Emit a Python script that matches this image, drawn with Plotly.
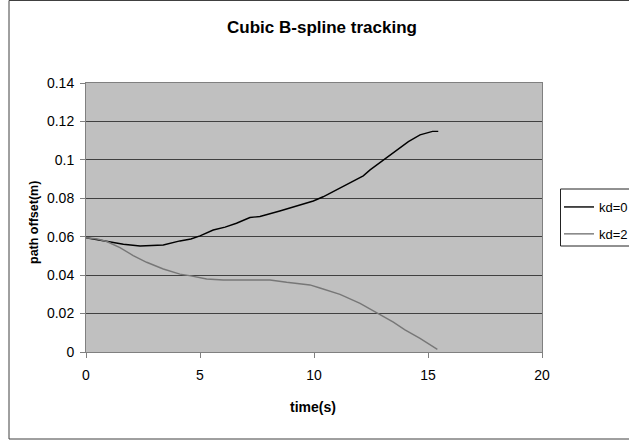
import plotly.graph_objects as go

# ---- data ----
kd0_t = [0, 0.5, 1.05, 1.64, 2.37, 2.9, 3.39, 4.12, 4.6, 5.0, 5.58, 6.1, 6.6, 7.19, 7.63,
         8.5, 9.39, 9.97, 10.4, 10.85, 11.58, 12.16, 12.46, 13.04, 13.63, 14.14, 14.65,
         15.0, 15.2, 15.45]
kd0_v = [0.0595, 0.0585, 0.0571, 0.0561, 0.0552, 0.0553, 0.0557, 0.0578, 0.0588, 0.0604,
         0.0635, 0.065, 0.067, 0.070, 0.0705, 0.0734, 0.0764, 0.0786, 0.0808, 0.0835,
         0.0878, 0.0917, 0.0948, 0.100, 0.105, 0.1095, 0.113, 0.1144, 0.1148, 0.1148]

kd2_t = [0, 0.5, 0.91, 1.49, 2.07, 2.66, 3.39, 4.12, 4.6, 5.0, 5.29, 6.02, 7.0, 8.07,
         8.8, 9.39, 9.82, 10.26, 11.14, 12.02, 12.75, 13.48, 13.99, 14.65, 15.41]
kd2_v = [0.0595, 0.0588, 0.0575, 0.0543, 0.0502, 0.0467, 0.0432, 0.0405, 0.0396, 0.0389,
         0.038, 0.0375, 0.0375, 0.0375, 0.0363, 0.0355, 0.0349, 0.0333, 0.030, 0.0253,
         0.0205, 0.0155, 0.0115, 0.0071, 0.0014]

series_names = ["kd=0", "kd=2"]
title_text = "Cubic B-spline tracking"
x_title = "time(s)"
y_title = "path offset(m)"
x_ticks = [0, 5, 10, 15, 20]
y_ticks = [0, 0.02, 0.04, 0.06, 0.08, 0.1, 0.12, 0.14]

FONT = "Liberation Sans, Arial, sans-serif"

fig = go.Figure()
fig.add_trace(go.Scatter(x=kd0_t, y=kd0_v, mode="lines", name=series_names[0],
                         legendgroup="a",
                         line=dict(color="#000000", width=1.4)))
fig.add_trace(go.Scatter(x=kd2_t, y=kd2_v, mode="lines", name=series_names[1],
                         legendgroup="b",
                         line=dict(color="#777777", width=1.4)))

W, H = 629, 442
L, R, T, B = 86, 87, 83, 90
pw, ph = W - L - R, H - T - B

def px_x(x):
    return (x - L) / pw

def px_y(y):
    return (H - B - y) / ph

fig.update_layout(
    width=W, height=H,
    margin=dict(l=L, r=R, t=T, b=B, autoexpand=False),
    paper_bgcolor="white",
    plot_bgcolor="#C0C0C0",
    font=dict(family=FONT, size=14, color="black"),
    title=dict(text=title_text, x=322 / W, xref="container", xanchor="center",
               y=1 - 27 / H, yref="container", yanchor="middle",
               font=dict(family=FONT, size=17, weight="bold", color="black")),
    showlegend=True,
    legend=dict(x=px_x(559), y=px_y(192), xanchor="left", yanchor="top",
                xref="paper", yref="paper",
                bgcolor="rgba(0,0,0,0)", borderwidth=0,
                font=dict(family=FONT, size=13, color="black"),
                tracegroupgap=7, itemwidth=30),
    shapes=[
        # outer chart border
        dict(type="rect", xref="paper", yref="paper",
             x0=px_x(9), x1=px_x(700), y0=px_y(439), y1=px_y(0.5),
             line=dict(color="#404040", width=1), fillcolor="rgba(0,0,0,0)",
             layer="below"),
        # legend box
        dict(type="rect", xref="paper", yref="paper",
             x0=px_x(560.5), x1=px_x(700), y0=px_y(246), y1=px_y(189),
             line=dict(color="#222222", width=1), fillcolor="white",
             layer="above"),
    ],
    annotations=[
        dict(text=x_title, xref="paper", yref="paper", x=px_x(313), y=px_y(407),
             xanchor="center", yanchor="middle", showarrow=False,
             font=dict(family=FONT, size=14, weight="bold", color="black")),
        dict(text=y_title, xref="paper", yref="paper", x=px_x(34), y=px_y(223),
             xanchor="center", yanchor="middle", showarrow=False, textangle=-90,
             font=dict(family=FONT, size=12.5, weight="bold", color="black")),
    ],
)

fig.update_xaxes(range=[0, 20], tickvals=x_ticks, ticks="outside", ticklen=5,
                 tickcolor="#808080", showline=True, linecolor="#808080", linewidth=1,
                 mirror=True, showgrid=False, zeroline=False,
                 tickfont=dict(family=FONT, size=14, color="black"),
                 ticklabelstandoff=5)
fig.update_yaxes(range=[0, 0.14], tickvals=y_ticks, ticks="outside", ticklen=5,
                 tickcolor="#808080", showline=True, linecolor="#808080", linewidth=1,
                 mirror=True, showgrid=True, gridcolor="#404040", gridwidth=1,
                 zeroline=False,
                 tickfont=dict(family=FONT, size=14, color="black"),
                 ticklabelstandoff=3)

fig.write_html("out.html")
